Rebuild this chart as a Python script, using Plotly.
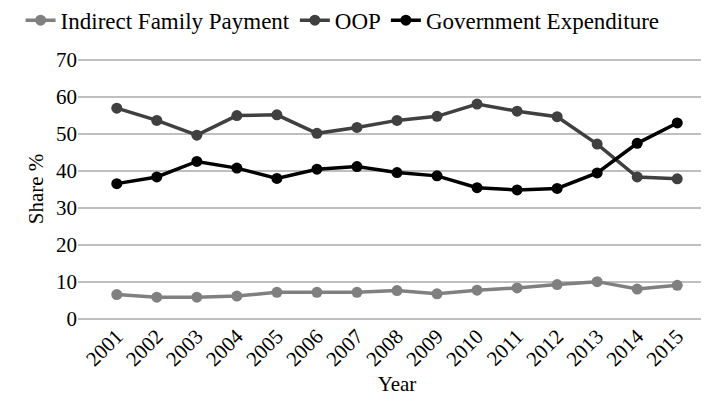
import plotly.graph_objects as go

years = [str(y) for y in range(2001, 2016)]
indirect = [6.6, 5.9, 5.9, 6.2, 7.2, 7.2, 7.2, 7.7, 6.8, 7.8, 8.4, 9.3, 10.1, 8.1, 9.1]
oop = [57.0, 53.7, 49.7, 55.0, 55.2, 50.2, 51.8, 53.7, 54.8, 58.1, 56.2, 54.7, 47.3, 38.4, 37.9]
gov = [36.6, 38.4, 42.6, 40.8, 38.0, 40.5, 41.2, 39.6, 38.7, 35.5, 34.9, 35.3, 39.5, 47.5, 53.0]
yticks = [0, 10, 20, 30, 40, 50, 60, 70]

series = [
    ("Indirect Family Payment", indirect, "#808080"),
    ("OOP", oop, "#404040"),
    ("Government Expenditure", gov, "#000000"),
]

fig = go.Figure()
for name, vals, col in series:
    fig.add_trace(go.Scatter(
        x=years, y=vals, name=name, mode="lines+markers",
        line=dict(color=col, width=3.5),
        marker=dict(color=col, size=11, symbol="circle"),
    ))

font = "Liberation Serif"
fig.update_layout(
    width=709, height=405,
    margin=dict(l=70, r=1, t=51, b=94, autoexpand=False),
    paper_bgcolor="white", plot_bgcolor="white",
    font=dict(family=font, size=21, color="black"),
    showlegend=True,
    legend=dict(orientation="h", x=-0.09, xanchor="left", y=1.232, yref="paper",
                yanchor="top", font=dict(family=font, size=23), itemwidth=30,
                traceorder="normal", bgcolor="rgba(0,0,0,0)", borderwidth=0),
    xaxis=dict(type="category", tickangle=-45, showgrid=False, showline=False,
               ticks="", automargin=False,
               title=dict(text="Year", font=dict(family=font, size=21), standoff=6),
               tickfont=dict(family=font, size=21)),
    yaxis=dict(range=[0, 70.3], tickvals=yticks, showgrid=True, gridcolor="#bfbfbf",
               gridwidth=1.5, zeroline=True, zerolinecolor="#bfbfbf", zerolinewidth=1.5,
               showline=False, ticks="", automargin=False,
               title=dict(text="Share %", font=dict(family=font, size=21), standoff=6),
               tickfont=dict(family=font, size=21)),
)
fig.write_html("out.html")
